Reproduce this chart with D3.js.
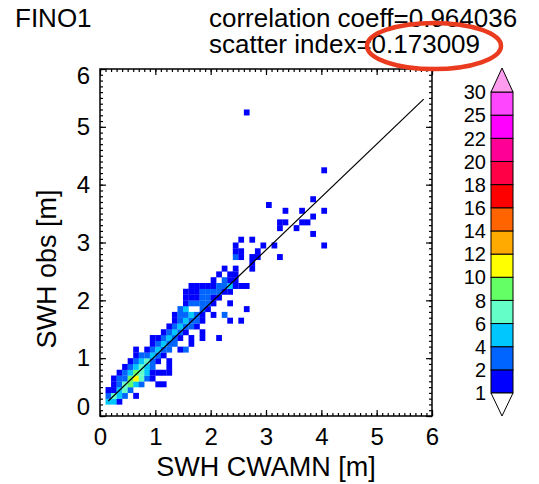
<!DOCTYPE html>
<html lang="en">
<head>
<meta charset="utf-8">
<style>
  body { margin: 0; background: #fff; }
  svg { display: block; font-family: "Liberation Sans", Arial, Helvetica, sans-serif; }
</style>
<script src="https://d3js.org/d3.v7.min.js"></script>
<title>FINO1 scatter</title>
</head>
<body>
<div id="chart"></div>
<script>
var width = 539, height = 484;

// texts
var stationName = "FINO1";
var statLines = ["correlation coeff=0.964036", "scatter index=0.173009"];
var xTitle = "SWH CWAMN [m]", yTitle = "SWH obs [m]";
var axisTicks = [0, 1, 2, 3, 4, 5, 6];

// fit line end points (m)
var fitX = [0.15, 5.85];
var fitY = [0.26, 5.48];

// colour levels of the bar
var levels = [1, 2, 4, 6, 8, 10, 12, 14, 16, 18, 20, 22, 25, 30];
var levelColors = ["#0000ff", "#0064ff", "#00c8ff", "#64ffc8", "#64ff64", "#ffff00",
  "#ffaa00", "#ff6400", "#ff0000", "#ff0046", "#ff0096", "#ff00ff", "#ff46ff"];
var overColor = "#ff9cee";

// 0.1 m bins: lower edge of obs row, lower edges of model bins, counts
var rowY = [0.2, 0.3, 0.4, 0.5, 0.6, 0.7, 0.8, 0.9, 1.0, 1.1, 1.2, 1.3, 1.4, 1.5, 1.6, 1.7,
  1.8, 1.9, 2.0, 2.1, 2.2, 2.3, 2.4, 2.5, 2.6, 2.7, 2.8, 2.9, 3.0, 3.1, 3.2, 3.3, 3.4, 3.5,
  3.6, 3.7, 4.2, 5.2];
var rowX = [
  [0.1, 0.2, 0.3],
  [0.1, 0.2, 0.3, 0.4, 0.6],
  [0.1, 0.2, 0.3, 0.4, 0.5],
  [0.2, 0.3, 0.4, 0.5, 0.6, 0.7, 1.0, 1.1],
  [0.2, 0.3, 0.4, 0.5, 0.6, 0.7, 0.8, 0.9],
  [0.3, 0.4, 0.5, 0.6, 0.7, 0.8, 0.9, 1.0, 1.1, 1.2],
  [0.4, 0.5, 0.6, 0.7, 0.8, 0.9, 1.2],
  [0.5, 0.6, 0.7, 0.8, 0.9, 1.0, 1.2],
  [0.6, 0.7, 0.8, 0.9, 1.0, 1.1],
  [0.6, 0.8, 0.9, 1.0, 1.1, 1.2, 1.4, 1.5],
  [0.9, 1.0, 1.1, 1.2, 1.3, 1.6],
  [0.9, 1.0, 1.1, 1.2, 1.3, 1.4, 1.6, 1.8, 2.1],
  [1.1, 1.2, 1.3, 1.4, 1.5, 1.8],
  [1.2, 1.3, 1.4, 1.5, 1.6, 1.7],
  [1.3, 1.4, 1.5, 1.6, 1.7, 1.8, 2.3, 2.5],
  [1.3, 1.4, 1.5, 1.6, 1.7, 1.8, 2.0, 2.2],
  [1.4, 1.5, 1.8, 1.9, 2.6],
  [1.5, 1.6, 1.7, 1.8, 1.9, 2.0, 2.3],
  [1.5, 1.6, 1.7, 1.8, 1.9, 2.0, 2.1],
  [1.5, 1.6, 1.7, 1.8, 1.9, 2.0, 2.1, 2.2, 2.3],
  [1.6, 1.7, 1.8, 1.9, 2.0, 2.1, 2.2, 2.3, 2.4, 2.5, 2.6],
  [2.0, 2.2, 2.3, 2.4],
  [2.1, 2.3, 2.4],
  [2.2, 2.4, 2.7],
  [2.7],
  [2.4, 2.5, 2.7, 2.8, 3.2],
  [2.4, 2.5, 2.8],
  [2.4, 2.9, 3.1, 4.0],
  [2.5, 2.7],
  [3.8],
  [3.2, 3.5],
  [3.2, 3.3, 3.6, 3.7],
  [3.8],
  [3.3, 3.6, 4.0],
  [3.0],
  [3.8],
  [4.0],
  [2.6]
];
var rowN = [
  [5, 4, 1],
  [3, 7, 5, 3, 1],
  [1, 1, 5, 7, 3],
  [1, 3, 7, 9, 5, 3, 1, 1],
  [1, 3, 3, 9, 11, 7, 3, 1],
  [1, 3, 5, 9, 7, 5, 1, 1, 1, 1],
  [1, 3, 5, 7, 5, 3, 1],
  [1, 3, 5, 7, 3, 1, 1],
  [1, 3, 3, 5, 3, 1],
  [1, 1, 3, 5, 3, 3, 1, 3],
  [1, 3, 5, 3, 3, 1],
  [1, 1, 3, 5, 3, 1, 1, 1, 1],
  [1, 3, 5, 3, 1, 1],
  [1, 3, 5, 3, 3, 1],
  [1, 3, 5, 3, 3, 1, 1, 1],
  [1, 3, 3, 5, 3, 1, 1, 3],
  [3, 5, 3, 1, 1],
  [1, 3, 3, 3, 3, 1, 1],
  [1, 1, 1, 3, 3, 1, 1],
  [1, 1, 1, 3, 3, 3, 3, 1, 1],
  [1, 1, 1, 1, 1, 3, 3, 5, 1, 1, 1],
  [1, 3, 1, 1],
  [1, 1, 1],
  [1, 1, 1],
  [1],
  [3, 1, 1, 1, 1],
  [1, 1, 1],
  [1, 1, 1, 1],
  [1, 1],
  [1],
  [1, 1],
  [1, 1, 1, 1],
  [1],
  [1, 1, 1],
  [1],
  [1],
  [1],
  [1]
];

var svg = d3.select("#chart").append("svg")
  .attr("width", width).attr("height", height);

var x = d3.scaleLinear().domain([0, 6]).range([100, 432]);
var y = d3.scaleLinear().domain([0, 6]).range([416, 69]);
var color = d3.scaleThreshold().domain(levels.slice(1)).range(levelColors.concat([overColor]));

// flatten bins
var bins = [];
rowY.forEach(function(yy, r) {
  rowX[r].forEach(function(xx, k) {
    bins.push({x: xx, y: yy, n: rowN[r][k]});
  });
});

svg.append("g").selectAll("rect")
  .data(bins)
  .enter().append("rect")
  .attr("x", function(d) { return x(d.x); })
  .attr("y", function(d) { return y(d.y + 0.1); })
  .attr("width", function(d) { return x(d.x + 0.1) - x(d.x) + 0.2; })
  .attr("height", function(d) { return y(d.y) - y(d.y + 0.1) + 0.2; })
  .attr("fill", function(d) { return color(d.n); });

// fit line
svg.append("path")
  .datum(d3.zip(fitX, fitY))
  .attr("d", d3.line().x(function(d) { return x(d[0]); }).y(function(d) { return y(d[1]); }))
  .attr("stroke", "#000").attr("stroke-width", 1.2).attr("fill", "none");

// ticks on all four sides, pointing in
function styleAxis(g) {
  g.select(".domain").remove();
  g.attr("font-size", 24).attr("font-family", null);
  g.selectAll("line").attr("stroke-width", 1.2);
}
var fmt = d3.format("d");
svg.append("g").attr("transform", "translate(0,416)")
  .call(d3.axisBottom(x).tickValues(axisTicks).tickSize(-6).tickPadding(12).tickFormat(fmt)).call(styleAxis);
svg.append("g").attr("transform", "translate(0,416)")
  .call(d3.axisBottom(x).ticks(60).tickSize(-3).tickFormat("")).call(styleAxis);
svg.append("g").attr("transform", "translate(0,69)")
  .call(d3.axisTop(x).tickValues(axisTicks).tickSize(-6).tickFormat("")).call(styleAxis);
svg.append("g").attr("transform", "translate(0,69)")
  .call(d3.axisTop(x).ticks(60).tickSize(-3).tickFormat("")).call(styleAxis);
var yLab = svg.append("g").attr("transform", "translate(100,0)")
  .call(d3.axisLeft(y).tickValues(axisTicks).tickSize(-6).tickPadding(10).tickFormat(fmt)).call(styleAxis);
// end labels sit inside the frame, as in the original
yLab.selectAll("text").attr("dy", function(d) { return d === 0 ? "-0.05em" : d === 6 ? "0.6em" : "0.32em"; });
svg.append("g").attr("transform", "translate(100,0)")
  .call(d3.axisLeft(y).ticks(60).tickSize(-3).tickFormat("")).call(styleAxis);
svg.append("g").attr("transform", "translate(432,0)")
  .call(d3.axisRight(y).tickValues(axisTicks).tickSize(-6).tickFormat("")).call(styleAxis);
svg.append("g").attr("transform", "translate(432,0)")
  .call(d3.axisRight(y).ticks(60).tickSize(-3).tickFormat("")).call(styleAxis);

// frame
svg.append("rect")
  .attr("x", 100).attr("y", 69).attr("width", 332).attr("height", 347)
  .attr("fill", "none").attr("stroke", "#000").attr("stroke-width", 1.5);

// axis titles
svg.append("text").attr("x", 266).attr("y", 476)
  .attr("text-anchor", "middle").attr("font-size", 27).text(xTitle);
svg.append("text").attr("transform", "translate(56,269) rotate(-90)")
  .attr("text-anchor", "middle").attr("font-size", 27).text(yTitle);

// header
svg.append("text").attr("x", 15).attr("y", 27).attr("font-size", 26).text(stationName);
svg.selectAll(".stat").data(statLines).enter().append("text")
  .attr("class", "stat")
  .attr("x", 209).attr("y", function(d, i) { return 27 + i * 26; })
  .attr("font-size", 26).text(function(d) { return d; });

// red marker ellipse
svg.append("ellipse")
  .attr("cx", 434).attr("cy", 46).attr("rx", 67).attr("ry", 23)
  .attr("fill", "none").attr("stroke", "#ea3b1f").attr("stroke-width", 4.5);

// colour bar
var cb0 = 491, cb1 = 513, cbMid = (cb0 + cb1) / 2;
var cy = d3.scaleLinear().domain([0, levelColors.length]).range([393, 92]);
var cb = svg.append("g");
cb.selectAll("rect").data(levelColors).enter().append("rect")
  .attr("x", cb0).attr("width", cb1 - cb0)
  .attr("y", function(d, i) { return cy(i + 1); })
  .attr("height", function(d, i) { return cy(i) - cy(i + 1); })
  .attr("fill", function(d) { return d; })
  .attr("stroke", "#000").attr("stroke-width", 1);
cb.append("path")
  .attr("d", "M" + cb0 + "," + cy(levelColors.length) + "L" + cbMid + ",68L" + cb1 + "," + cy(levelColors.length) + "Z")
  .attr("fill", overColor).attr("stroke", "#000").attr("stroke-width", 1);
cb.append("path")
  .attr("d", "M" + cb0 + "," + cy(0) + "L" + cbMid + ",416L" + cb1 + "," + cy(0) + "Z")
  .attr("fill", "#fff").attr("stroke", "#000").attr("stroke-width", 1);
cb.selectAll("text").data(levels).enter().append("text")
  .attr("x", 486).attr("y", function(d, i) { return cy(i); })
  .attr("dy", "0.36em").attr("text-anchor", "end").attr("font-size", 20)
  .text(function(d) { return d; });
</script>
</body>
</html>
